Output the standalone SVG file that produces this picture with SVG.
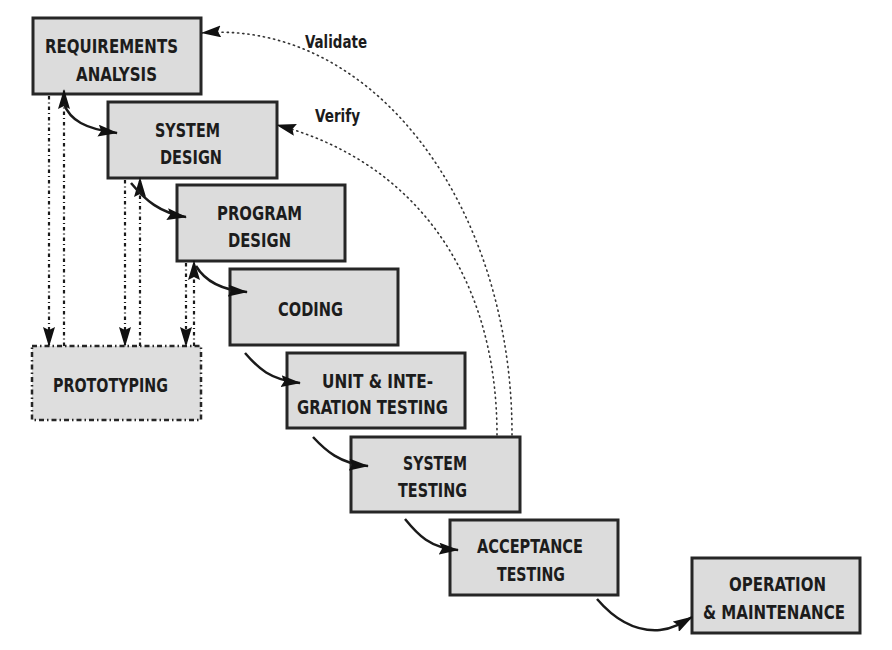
<svg xmlns="http://www.w3.org/2000/svg" width="892" height="650" viewBox="0 0 892 650">
<style>
.box{fill:#dcdcdc;stroke:#262626;stroke-width:3}
.proto{fill:#dedede;stroke:#262626;stroke-width:2.5;stroke-dasharray:5 3 1.5 3}
.t{font-family:"DejaVu Sans Condensed","DejaVu Sans",sans-serif;font-weight:bold;font-size:19px;fill:#1c1c1c;text-anchor:middle}
.lbl{font-family:"DejaVu Sans Condensed","DejaVu Sans",sans-serif;font-weight:bold;font-size:18px;fill:#1c1c1c}
.solid{fill:none;stroke:#1a1a1a;stroke-width:2.5;marker-end:url(#ah)}
.dot{fill:none;stroke:#333;stroke-width:1.6;stroke-dasharray:1.2 4;stroke-linecap:round;marker-end:url(#ah)}
.ddA{fill:none;stroke:#1a1a1a;stroke-width:2.2;stroke-dasharray:3.5 3 1 3;marker-end:url(#ah)}
</style>
<defs>
<marker id="ah" viewBox="0 0 20 12" refX="19" refY="6" markerWidth="20" markerHeight="12" orient="auto" markerUnits="userSpaceOnUse">
<path d="M0,0 L20,6 L0,12 L3,6 z" fill="#111"/>
</marker>
</defs>
<rect width="892" height="650" fill="#ffffff"/>

<g id="requirements">
<rect class="box" x="33" y="18" width="168" height="76"/>
<text class="t" x="111.5" y="53" textLength="133" lengthAdjust="spacingAndGlyphs">REQUIREMENTS</text>
<text class="t" x="116.5" y="81" textLength="81" lengthAdjust="spacingAndGlyphs">ANALYSIS</text>
</g>
<g id="system-design">
<rect class="box" x="108" y="102" width="169" height="76"/>
<text class="t" x="187.5" y="137" textLength="65" lengthAdjust="spacingAndGlyphs">SYSTEM</text>
<text class="t" x="191" y="164" textLength="62" lengthAdjust="spacingAndGlyphs">DESIGN</text>
</g>
<g id="program-design">
<rect class="box" x="177" y="185" width="168" height="76"/>
<text class="t" x="259.5" y="220" textLength="85" lengthAdjust="spacingAndGlyphs">PROGRAM</text>
<text class="t" x="259.5" y="247" textLength="63" lengthAdjust="spacingAndGlyphs">DESIGN</text>
</g>
<g id="coding">
<rect class="box" x="230" y="269" width="168" height="76"/>
<text class="t" x="310.5" y="316" textLength="65" lengthAdjust="spacingAndGlyphs">CODING</text>
</g>
<g id="unit-testing">
<rect class="box" x="287" y="353" width="178" height="75"/>
<text class="t" x="377.5" y="388" textLength="111" lengthAdjust="spacingAndGlyphs">UNIT &amp; INTE-</text>
<text class="t" x="372.5" y="414" textLength="151" lengthAdjust="spacingAndGlyphs">GRATION TESTING</text>
</g>
<g id="system-testing">
<rect class="box" x="351" y="437" width="169" height="75"/>
<text class="t" x="435" y="470" textLength="64" lengthAdjust="spacingAndGlyphs">SYSTEM</text>
<text class="t" x="432.5" y="497" textLength="69" lengthAdjust="spacingAndGlyphs">TESTING</text>
</g>
<g id="acceptance-testing">
<rect class="box" x="450" y="520" width="168" height="75"/>
<text class="t" x="530" y="553" textLength="106" lengthAdjust="spacingAndGlyphs">ACCEPTANCE</text>
<text class="t" x="531" y="581" textLength="68" lengthAdjust="spacingAndGlyphs">TESTING</text>
</g>
<g id="operation">
<rect class="box" x="692" y="558" width="168" height="75"/>
<text class="t" x="777.5" y="591" textLength="97" lengthAdjust="spacingAndGlyphs">OPERATION</text>
<text class="t" x="774" y="619" textLength="142" lengthAdjust="spacingAndGlyphs">&amp; MAINTENANCE</text>
</g>
<g id="prototyping">
<rect class="proto" x="32" y="346" width="169" height="74"/>
<text class="t" x="110.5" y="392" textLength="115" lengthAdjust="spacingAndGlyphs">PROTOTYPING</text>
</g>
<g id="labels">
<text class="lbl" x="305" y="48" textLength="62" lengthAdjust="spacingAndGlyphs">Validate</text>
<text class="lbl" x="315" y="122" textLength="45" lengthAdjust="spacingAndGlyphs">Verify</text>
</g>

<g id="connectors">
<path class="dot" d="M512 435 A292 401 0 0 0 202 33"/>
<path class="dot" d="M497 435 C497 270 410 160 277 125"/>
<path class="ddA" d="M49 96 L49 346"/>
<path class="ddA" d="M64 346 L64 90"/>
<path class="ddA" d="M125 180 L125 346"/>
<path class="ddA" d="M140 346 L140 178"/>
<path class="ddA" d="M186 263 L186 346"/>
<path class="ddA" d="M194 346 L194 261"/>
<path class="solid" d="M64 104 C70 120 85 129 117 133"/>
<path class="solid" d="M131 183 C145 200 160 213 186 217"/>
<path class="solid" d="M196 266 C205 281 220 290 247 292"/>
<path class="solid" d="M245 353 C258 368 270 380 300 383"/>
<path class="solid" d="M313 437 C325 450 340 464 368 466"/>
<path class="solid" d="M405 519 C418 535 430 548 458 550"/>
<path class="solid" d="M597 599 C615 620 635 632 660 630 C672 629 682 623 692 617"/>
</g>
</svg>
